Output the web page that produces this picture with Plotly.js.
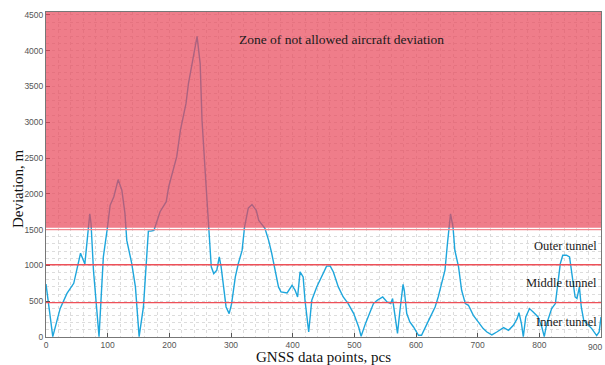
<!DOCTYPE html>
<html>
<head>
<meta charset="utf-8">
<script src="https://cdn.plot.ly/plotly-3.0.1.min.js"></script>
<style>html,body{margin:0;padding:0;background:#fff;}#chart{width:605px;height:365px;}</style>
</head>
<body>
<div id="chart"></div>
<script>
// GNSS data point index
const pointIndex = [0, 11, 23, 34, 45, 51, 56, 63, 66, 71, 73, 77, 86, 93, 99, 104, 110, 117, 123, 128, 131, 139, 145, 148, 151, 158, 163, 166, 170, 175, 185, 195, 199, 207, 212, 218, 223, 227, 231, 237, 240, 245, 250, 253, 258, 264, 268, 272, 277, 281, 284, 288, 292, 297, 301, 307, 312, 318, 322, 328, 334, 341, 345, 355, 361, 366, 372, 377, 381, 391, 399, 404, 408, 412, 417, 420, 426, 431, 439, 447, 455, 461, 466, 474, 482, 490, 499, 507, 511, 518, 526, 531, 537, 546, 553, 559, 562, 566, 570, 574, 579, 581, 585, 590, 596, 604, 609, 618, 626, 631, 636, 642, 647, 651, 656, 660, 663, 669, 674, 680, 685, 693, 701, 709, 715, 723, 731, 742, 750, 758, 764, 767, 771, 774, 778, 784, 790, 798, 804, 808, 812, 820, 826, 830, 834, 838, 844, 849, 853, 858, 861, 865, 868, 872, 877, 885, 893, 897, 900];
// aircraft deviation, m
const deviation = [740, 5, 400, 610, 750, 980, 1170, 1020, 1310, 1720, 1590, 930, 5, 1120, 1490, 1840, 1960, 2200, 2050, 1730, 1350, 1030, 700, 370, 5, 420, 1120, 1480, 1480, 1490, 1750, 1890, 2100, 2380, 2520, 2890, 3080, 3260, 3540, 3820, 3960, 4200, 3820, 3030, 2330, 1540, 980, 886, 933, 1120, 980, 700, 420, 327, 467, 840, 1030, 1210, 1540, 1800, 1850, 1770, 1630, 1520, 1350, 1170, 930, 700, 630, 615, 723, 653, 559, 909, 839, 513, 70, 513, 700, 840, 990, 990, 909, 700, 559, 467, 327, 140, 10, 187, 373, 467, 513, 559, 489, 467, 537, 280, 50, 373, 735, 653, 327, 210, 140, 24, 24, 187, 327, 420, 559, 747, 933, 1306, 1720, 1538, 1212, 979, 653, 467, 443, 303, 210, 117, 70, 30, 70, 131, 94, 164, 257, 340, 187, 5, 280, 397, 350, 280, 140, 5, 187, 397, 467, 793, 1026, 1143, 1143, 1119, 886, 559, 537, 699, 420, 233, 187, 117, 20, 70, 280];
// zone thresholds, m
const innerTunnel = 480;
const middleTunnel = 1010;
const outerTunnel = 1500;
const forbiddenStart = 1525;
const yMax = 4541;
const xMax = 900;
const zoneLabels = ["Inner tunnel", "Middle tunnel", "Outer tunnel"];
const zoneLabelY = [206, 751, 1268];

const serif = "Liberation Serif, Times New Roman, serif";
const sans = "Liberation Sans, Arial, sans-serif";
const trace = {
  x: pointIndex, y: deviation, type: "scatter", mode: "lines",
  line: {color: "#1ea6dc", width: 1.4}, hoverinfo: "skip", showlegend: false
};
function hline(y, color, w) {
  return {type: "line", xref: "paper", x0: 0, x1: 1, yref: "y", y0: y, y1: y,
          line: {color: color, width: w}, layer: "above"};
}
const shapes = [
  {type: "rect", xref: "paper", x0: 0, x1: 1, yref: "y", y0: forbiddenStart, y1: yMax,
   fillcolor: "rgba(232,70,88,0.7)", line: {width: 0}, layer: "above"},
  hline(outerTunnel, "#f08a90", 1.2),
  hline(middleTunnel, "#ee5058", 1.4),
  hline(innerTunnel, "#ee5058", 1.4)
];
const annotations = [
  {x: 479, y: 4150, xref: "x", yref: "y", text: "Zone of not allowed aircraft deviation",
   showarrow: false, font: {family: serif, size: 13.5, color: "#1a1a1a"}},
  {x: -0.0505, xref: "paper", y: 2080, yref: "y", text: "Deviation, m", textangle: -90,
   showarrow: false, xanchor: "center", yanchor: "middle",
   font: {family: serif, size: 15, color: "#111"}},
  {x: xMax, xref: "x", y: 0, yref: "paper", yanchor: "top", xanchor: "right", xshift: 3, yshift: -3,
   text: String(xMax), showarrow: false, font: {family: sans, size: 8.5, color: "#555"}}
];
zoneLabels.forEach((t, i) => annotations.push({
  x: 1, xref: "paper", xanchor: "right", y: zoneLabelY[i], yref: "y", text: t,
  showarrow: false, xshift: -2, font: {family: serif, size: 12.5, color: "#1a1a1a"}
}));
const gridCol = "#dcdcdc";
const layout = {
  width: 605, height: 365,
  margin: {l: 46, r: 4, t: 12, b: 28, pad: 0},
  paper_bgcolor: "#ffffff", plot_bgcolor: "#ffffff",
  showlegend: false,
  xaxis: {
    range: [0, xMax], dtick: 100, tick0: 0, ticks: "inside", ticklen: 4, tickcolor: "#555",
    showline: true, linecolor: "#777", linewidth: 1, mirror: true,
    showgrid: true, gridcolor: gridCol, griddash: "dot", gridwidth: 1, zeroline: false,
    minor: {dtick: 20, showgrid: true, gridcolor: gridCol, griddash: "dot", gridwidth: 1},
    tickfont: {family: sans, size: 8.5, color: "#555"},
    title: {text: "GNSS data points, pcs", font: {family: serif, size: 15, color: "#111"}, standoff: 4},
    automargin: false
  },
  yaxis: {
    range: [0, yMax], dtick: 500, tick0: 0, ticks: "inside", ticklen: 4, tickcolor: "#555",
    showline: true, linecolor: "#777", linewidth: 1, mirror: true,
    showgrid: true, gridcolor: gridCol, griddash: "dot", gridwidth: 1, zeroline: false,
    minor: {dtick: 100, showgrid: true, gridcolor: gridCol, griddash: "dot", gridwidth: 1},
    tickfont: {family: sans, size: 8.5, color: "#555"},
    automargin: false
  },
  shapes: shapes,
  annotations: annotations
};
Plotly.newPlot("chart", [trace], layout, {displayModeBar: false, staticPlot: true});
</script>
</body>
</html>
